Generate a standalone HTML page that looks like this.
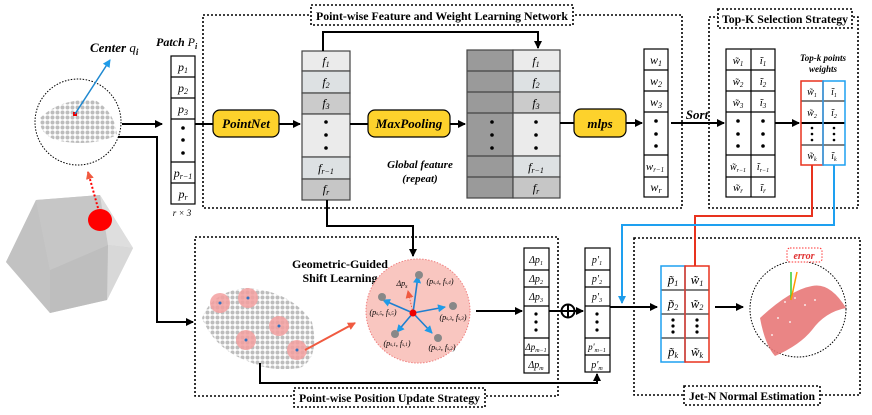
<!DOCTYPE html>
<html><head><meta charset="utf-8"><style>
html,body{margin:0;padding:0;background:#fff}
svg{display:block}
text{font-family:"Liberation Serif",serif}
.b{font-weight:bold}
.bi{font-weight:bold;font-style:italic}
.i{font-style:italic}
</style></head><body>
<svg width="872" height="415" viewBox="0 0 872 415" xmlns="http://www.w3.org/2000/svg">
<defs>
<marker id="ar" markerWidth="8" markerHeight="8" refX="7" refY="4" orient="auto" markerUnits="userSpaceOnUse"><path d="M0,0 L8,4 L0,8 z" fill="#000"/></marker>
<marker id="arb" markerWidth="8" markerHeight="8" refX="7" refY="4" orient="auto" markerUnits="userSpaceOnUse"><path d="M0,0 L8,4 L0,8 z" fill="#1e9be8"/></marker>
<marker id="arr" markerWidth="8" markerHeight="8" refX="7" refY="4" orient="auto" markerUnits="userSpaceOnUse"><path d="M0,0 L8,4 L0,8 z" fill="#f05a40"/></marker>
<pattern id="dots" width="5" height="5" patternUnits="userSpaceOnUse"><rect width="5" height="5" fill="#fff"/><circle cx="2.5" cy="2.5" r="2" fill="#bdbdbd"/></pattern>
</defs>
<g fill="none" stroke="#000" stroke-width="1.6" stroke-dasharray="2,2">
<rect x="203" y="15" width="479" height="193"/>
<rect x="709" y="17" width="149" height="191"/>
<rect x="195" y="237" width="363" height="159"/>
<rect x="634" y="238" width="226" height="157"/>
</g>
<g fill="#fff" stroke="#000" stroke-width="1.6" stroke-dasharray="2,2">
<rect x="311" y="5" width="262" height="20"/>
<rect x="718" y="9" width="134" height="19"/>
<rect x="294" y="388" width="191" height="19"/>
<rect x="684" y="386" width="136" height="19"/>
</g>
<g class="b" font-size="12">
<text x="316" y="20" textLength="252" lengthAdjust="spacingAndGlyphs">Point-wise Feature and Weight Learning Network</text>
<text x="722" y="23" textLength="126" lengthAdjust="spacingAndGlyphs">Top-K Selection Strategy</text>
<text x="299" y="402" textLength="181" lengthAdjust="spacingAndGlyphs">Point-wise Position Update Strategy</text>
<text x="689" y="400" textLength="126" lengthAdjust="spacingAndGlyphs">Jet-N Normal Estimation</text>
</g>
<!-- left circle -->
<circle cx="78" cy="122" r="43" fill="#fff" stroke="#000" stroke-dasharray="1.5,1.5"/>
<path d="M40,118 Q60,98 95,100 Q115,112 117,135 Q90,148 55,140 Q38,132 40,118 z" fill="url(#dots)"/>
<rect x="73" y="112" width="4" height="4" fill="#e00"/>
<line x1="75" y1="114" x2="110" y2="60" stroke="#1e88d0" stroke-width="1.5" marker-end="url(#arb)"/>
<text x="90" y="52" class="bi" font-size="13">Center <tspan font-weight="normal">q</tspan><tspan font-size="9" dy="3">i</tspan></text>
<!-- icosahedron -->
<polygon points="36,200 100,195 133,248 107,300 50,313 6,262" fill="#cfcfcf"/>
<polygon points="36,200 100,195 108,245 50,270" fill="#c6c6c6"/>
<polygon points="100,195 133,248 108,245" fill="#dedede"/>
<polygon points="108,245 133,248 107,300" fill="#d8d8d8"/>
<polygon points="50,270 108,245 107,300 50,313" fill="#bebebe"/>
<polygon points="6,262 36,200 50,270 50,313" fill="#c2c2c2"/>
<ellipse cx="100" cy="220" rx="12" ry="11" fill="#f00"/>
<line x1="98" y1="208" x2="88" y2="172" stroke="#f00" stroke-width="2" stroke-dasharray="2,2" marker-end="url(#arr)"/>
<!-- connectors left -->
<line x1="122" y1="124" x2="162" y2="124" stroke="#000" stroke-width="2" marker-end="url(#ar)"/>
<polyline points="118,137 157,137 157,322 193,322" fill="none" stroke="#000" stroke-width="2" marker-end="url(#ar)"/>
<!-- patch -->
<text x="156" y="46" class="bi" font-size="12">Patch <tspan font-weight="normal">P</tspan><tspan font-size="8" dy="3">i</tspan></text>
<g fill="#fff" stroke="#000" stroke-width="1.2">
<rect x="171" y="56" width="24" height="148"/>
<line x1="171" y1="77" x2="195" y2="77"/><line x1="171" y1="98" x2="195" y2="98"/><line x1="171" y1="119" x2="195" y2="119"/><line x1="171" y1="162" x2="195" y2="162"/><line x1="171" y1="183" x2="195" y2="183"/>
</g>
<g class="i" font-size="12" text-anchor="middle">
<text x="183" y="71">p<tspan font-size="8" dy="2">1</tspan></text>
<text x="183" y="92">p<tspan font-size="8" dy="2">2</tspan></text>
<text x="183" y="113">p<tspan font-size="8" dy="2">3</tspan></text>
<text x="183" y="177">p<tspan font-size="8" dy="2">r−1</tspan></text>
<text x="183" y="198">p<tspan font-size="8" dy="2">r</tspan></text>
<text x="182" y="216" font-size="9">r × 3</text>
</g>
<g fill="#000"><circle cx="183" cy="128" r="1.8"/><circle cx="183" cy="140" r="1.8"/><circle cx="183" cy="153" r="1.8"/></g>
<!-- PointNet -->
<line x1="195" y1="124" x2="213" y2="124" stroke="#000" stroke-width="2"/>
<rect x="213" y="110" width="66" height="27" rx="7" fill="#fdd22c" stroke="#000" stroke-width="1.2"/>
<text x="246" y="128" class="bi" font-size="13" text-anchor="middle">PointNet</text>
<line x1="279" y1="124" x2="300" y2="124" stroke="#000" stroke-width="2" marker-end="url(#ar)"/>
<!-- f column -->
<g stroke="#444" stroke-width="1.2">
<rect x="302" y="51" width="48" height="20" fill="#ebebeb"/>
<rect x="302" y="71" width="48" height="22" fill="#dde1e3"/>
<rect x="302" y="93" width="48" height="21" fill="#cbcbcb"/>
<rect x="302" y="114" width="48" height="43" fill="#ebebeb"/>
<rect x="302" y="157" width="48" height="22" fill="#dde1e3"/>
<rect x="302" y="179" width="48" height="21" fill="#c6c6c6"/>
</g>
<g class="i" font-size="12" text-anchor="middle">
<text x="326" y="65">f<tspan font-size="8" dy="2">1</tspan></text>
<text x="326" y="86">f<tspan font-size="8" dy="2">2</tspan></text>
<text x="326" y="107">f<tspan font-size="8" dy="2">3</tspan></text>
<text x="326" y="172">f<tspan font-size="8" dy="2">r−1</tspan></text>
<text x="326" y="193">f<tspan font-size="8" dy="2">r</tspan></text>
</g>
<g fill="#000"><circle cx="326" cy="122" r="1.8"/><circle cx="326" cy="135" r="1.8"/><circle cx="326" cy="148" r="1.8"/></g>
<polyline points="323,51 323,32 538,32 538,48" fill="none" stroke="#000" stroke-width="2" marker-end="url(#ar)"/>
<!-- MaxPooling -->
<line x1="350" y1="124" x2="368" y2="124" stroke="#000" stroke-width="2"/>
<rect x="368" y="110" width="82" height="27" rx="7" fill="#fdd22c" stroke="#000" stroke-width="1.2"/>
<text x="409" y="128" class="bi" font-size="13" text-anchor="middle">MaxPooling</text>
<line x1="450" y1="124" x2="465" y2="124" stroke="#000" stroke-width="2" marker-end="url(#ar)"/>
<text x="420" y="168" class="bi" font-size="11" text-anchor="middle">Global feature</text>
<text x="420" y="182" class="bi" font-size="11" text-anchor="middle">(repeat)</text>
<!-- concat -->
<g stroke="#444" stroke-width="1.2">
<rect x="467" y="50" width="46" height="148" fill="#9a9a9a"/>
<line x1="467" y1="71" x2="513" y2="71"/><line x1="467" y1="92" x2="513" y2="92"/><line x1="467" y1="113" x2="513" y2="113"/><line x1="467" y1="156" x2="513" y2="156"/><line x1="467" y1="177" x2="513" y2="177"/>
<rect x="513" y="50" width="47" height="21" fill="#ebebeb"/>
<rect x="513" y="71" width="47" height="21" fill="#dde1e3"/>
<rect x="513" y="92" width="47" height="21" fill="#cbcbcb"/>
<rect x="513" y="113" width="47" height="43" fill="#ebebeb"/>
<rect x="513" y="156" width="47" height="21" fill="#dde1e3"/>
<rect x="513" y="177" width="47" height="21" fill="#c6c6c6"/>
</g>
<g class="i" font-size="12" text-anchor="middle">
<text x="536" y="65">f<tspan font-size="8" dy="2">1</tspan></text>
<text x="536" y="86">f<tspan font-size="8" dy="2">2</tspan></text>
<text x="536" y="107">f<tspan font-size="8" dy="2">3</tspan></text>
<text x="536" y="171">f<tspan font-size="8" dy="2">r−1</tspan></text>
<text x="536" y="192">f<tspan font-size="8" dy="2">r</tspan></text>
</g>
<g fill="#000"><circle cx="492" cy="122" r="1.8"/><circle cx="492" cy="135" r="1.8"/><circle cx="492" cy="148" r="1.8"/><circle cx="536" cy="122" r="1.8"/><circle cx="536" cy="135" r="1.8"/><circle cx="536" cy="148" r="1.8"/></g>
<!-- mlps -->
<line x1="560" y1="123" x2="574" y2="123" stroke="#000" stroke-width="2"/>
<rect x="574" y="109" width="52" height="28" rx="7" fill="#fdd22c" stroke="#000" stroke-width="1.2"/>
<text x="600" y="128" class="bi" font-size="13" text-anchor="middle">mlps</text>
<line x1="626" y1="123" x2="642" y2="123" stroke="#000" stroke-width="2" marker-end="url(#ar)"/>
<!-- w column -->
<g fill="#fff" stroke="#000" stroke-width="1.2">
<rect x="644" y="49" width="24" height="148"/>
<line x1="644" y1="70" x2="668" y2="70"/><line x1="644" y1="91" x2="668" y2="91"/><line x1="644" y1="112" x2="668" y2="112"/><line x1="644" y1="155" x2="668" y2="155"/><line x1="644" y1="177" x2="668" y2="177"/>
</g>
<g class="i" font-size="12" text-anchor="middle">
<text x="656" y="64">w<tspan font-size="8" dy="2">1</tspan></text>
<text x="656" y="85">w<tspan font-size="8" dy="2">2</tspan></text>
<text x="656" y="106">w<tspan font-size="8" dy="2">3</tspan></text>
<text x="655" y="170" font-size="11">w<tspan font-size="7" dy="2">r−1</tspan></text>
<text x="656" y="191">w<tspan font-size="8" dy="2">r</tspan></text>
</g>
<g fill="#000"><circle cx="656" cy="121" r="1.8"/><circle cx="656" cy="134" r="1.8"/><circle cx="656" cy="146" r="1.8"/></g>
<text x="697" y="119" class="bi" font-size="13" text-anchor="middle">Sort</text>
<line x1="671" y1="123" x2="724" y2="123" stroke="#000" stroke-width="2" marker-end="url(#ar)"/>
<!-- sorted table -->
<g fill="#fff" stroke="#000" stroke-width="1.2">
<rect x="726" y="49" width="49" height="148"/><line x1="751" y1="49" x2="751" y2="197"/>
<line x1="726" y1="70" x2="775" y2="70"/><line x1="726" y1="91" x2="775" y2="91"/><line x1="726" y1="112" x2="775" y2="112"/><line x1="726" y1="155" x2="775" y2="155"/><line x1="726" y1="177" x2="775" y2="177"/>
</g>
<g class="i" font-size="11" text-anchor="middle">
<text x="738" y="64">w̃<tspan font-size="7" dy="2">1</tspan></text><text x="763" y="64">ĩ<tspan font-size="7" dy="2">1</tspan></text>
<text x="738" y="85">w̃<tspan font-size="7" dy="2">2</tspan></text><text x="763" y="85">ĩ<tspan font-size="7" dy="2">2</tspan></text>
<text x="738" y="106">w̃<tspan font-size="7" dy="2">3</tspan></text><text x="763" y="106">ĩ<tspan font-size="7" dy="2">3</tspan></text>
<text x="738" y="170" font-size="10">w̃<tspan font-size="6" dy="2">r−1</tspan></text><text x="763" y="170" font-size="10">ĩ<tspan font-size="6" dy="2">r−1</tspan></text>
<text x="738" y="191">w̃<tspan font-size="7" dy="2">r</tspan></text><text x="763" y="191">ĩ<tspan font-size="7" dy="2">r</tspan></text>
</g>
<g fill="#000"><circle cx="738" cy="121" r="1.8"/><circle cx="738" cy="134" r="1.8"/><circle cx="738" cy="146" r="1.8"/><circle cx="763" cy="121" r="1.8"/><circle cx="763" cy="134" r="1.8"/><circle cx="763" cy="146" r="1.8"/></g>
<line x1="775" y1="123" x2="799" y2="123" stroke="#000" stroke-width="2" marker-end="url(#ar)"/>
<text x="823" y="61" class="bi" font-size="9" text-anchor="middle">Top-k points</text>
<text x="823" y="72" class="bi" font-size="9" text-anchor="middle">weights</text>
<!-- top-k table -->
<g stroke="#000" stroke-width="1" fill="#fff">
<rect x="801" y="81" width="44" height="84"/>
<line x1="801" y1="101" x2="845" y2="101"/><line x1="801" y1="123" x2="845" y2="123" stroke-width="2"/><line x1="801" y1="145" x2="845" y2="145"/>
</g>
<rect x="801" y="81" width="22" height="84" fill="none" stroke="#e8321e" stroke-width="1.5"/>
<rect x="823" y="81" width="22" height="84" fill="none" stroke="#1ea0f0" stroke-width="1.5"/>
<g class="i" font-size="10" text-anchor="middle">
<text x="812" y="95">w̃<tspan font-size="6" dy="2">1</tspan></text><text x="834" y="95">ĩ<tspan font-size="6" dy="2">1</tspan></text>
<text x="812" y="116">w̃<tspan font-size="6" dy="2">2</tspan></text><text x="834" y="116">ĩ<tspan font-size="6" dy="2">2</tspan></text>
<text x="812" y="159">w̃<tspan font-size="6" dy="2">k</tspan></text><text x="834" y="159">ĩ<tspan font-size="6" dy="2">k</tspan></text>
</g>
<g fill="#000"><circle cx="812" cy="128" r="1.3"/><circle cx="812" cy="134" r="1.3"/><circle cx="812" cy="140" r="1.3"/><circle cx="834" cy="128" r="1.3"/><circle cx="834" cy="134" r="1.3"/><circle cx="834" cy="140" r="1.3"/></g>
<polyline points="812,165 812,216 695,216 695,266" fill="none" stroke="#e8321e" stroke-width="2"/>
<polyline points="834,165 834,225 622,225 622,303" fill="none" stroke="#1ea0f0" stroke-width="2" marker-end="url(#arb)"/>
<!-- bottom connector from f -->
<polyline points="327,200 327,226 413,226 413,256" fill="none" stroke="#000" stroke-width="2" marker-end="url(#ar)"/>
<text x="340" y="268" class="b" font-size="12" text-anchor="middle">Geometric-Guided</text>
<text x="340" y="282" class="b" font-size="12" text-anchor="middle">Shift Learning</text>
<!-- point cloud -->
<path d="M202,318 Q212,292 245,288 Q290,290 312,322 Q320,358 300,368 Q270,372 250,362 Q215,350 202,318 z" fill="url(#dots)"/>
<g fill="#f4a0a0" opacity="0.85">
<circle cx="220" cy="303" r="10"/><circle cx="248" cy="298" r="10"/><circle cx="279" cy="326" r="10"/><circle cx="246" cy="340" r="10"/><circle cx="297" cy="350" r="10"/>
</g>
<g fill="#3070c0"><circle cx="220" cy="303" r="1.5"/><circle cx="248" cy="298" r="1.5"/><circle cx="279" cy="326" r="1.5"/><circle cx="246" cy="340" r="1.5"/><circle cx="297" cy="350" r="1.5"/></g>
<line x1="305" y1="350" x2="355" y2="323" stroke="#f05a40" stroke-width="2" marker-end="url(#arr)"/>
<!-- shift circle -->
<circle cx="418" cy="311" r="52" fill="#f9c6c0" stroke="#f08080" stroke-dasharray="1.5,1.5"/>
<g stroke="#1e7fd0" stroke-width="1.6">
<line x1="413" y1="313" x2="418" y2="276" marker-end="url(#arb)"/>
<line x1="413" y1="313" x2="383" y2="300" marker-end="url(#arb)"/>
<line x1="413" y1="313" x2="445" y2="307" marker-end="url(#arb)"/>
<line x1="413" y1="313" x2="397" y2="332" marker-end="url(#arb)"/>
<line x1="413" y1="313" x2="432" y2="333" marker-end="url(#arb)"/>
</g>
<line x1="413" y1="313" x2="408" y2="291" stroke="#f05a40" stroke-dasharray="1.5,1.5" marker-end="url(#arr)"/>
<g fill="#888"><circle cx="419" cy="275" r="4"/><circle cx="382" cy="297" r="4"/><circle cx="453" cy="306" r="4"/><circle cx="395" cy="334" r="4"/><circle cx="438" cy="338" r="4"/></g>
<circle cx="413" cy="313" r="3.5" fill="#e00"/>
<g class="i" font-size="8" text-anchor="middle">
<text x="402" y="286">Δp<tspan font-size="6" dy="2">s</tspan></text>
<text x="440" y="284">(p<tspan font-size="5">s,4</tspan>, f<tspan font-size="5">s,4</tspan>)</text>
<text x="383" y="315">(p<tspan font-size="5">s,5</tspan>, f<tspan font-size="5">s,5</tspan>)</text>
<text x="453" y="320">(p<tspan font-size="5">s,3</tspan>, f<tspan font-size="5">s,3</tspan>)</text>
<text x="397" y="346">(p<tspan font-size="5">s,1</tspan>, f<tspan font-size="5">s,1</tspan>)</text>
<text x="442" y="350">(p<tspan font-size="5">s,2</tspan>, f<tspan font-size="5">s,2</tspan>)</text>
</g>
<line x1="476" y1="311" x2="522" y2="311" stroke="#000" stroke-width="2" marker-end="url(#ar)"/>
<!-- delta column -->
<g fill="#fff" stroke="#000" stroke-width="1.2">
<rect x="524" y="248" width="25" height="125"/>
<line x1="524" y1="270" x2="549" y2="270"/><line x1="524" y1="287" x2="549" y2="287"/><line x1="524" y1="306" x2="549" y2="306"/><line x1="524" y1="338" x2="549" y2="338"/><line x1="524" y1="355" x2="549" y2="355"/>
<rect x="585" y="248" width="25" height="124"/>
<line x1="585" y1="270" x2="610" y2="270"/><line x1="585" y1="287" x2="610" y2="287"/><line x1="585" y1="306" x2="610" y2="306"/><line x1="585" y1="338" x2="610" y2="338"/><line x1="585" y1="355" x2="610" y2="355"/>
</g>
<g class="i" font-size="10" text-anchor="middle">
<text x="536" y="263">Δp<tspan font-size="6" dy="2">1</tspan></text>
<text x="536" y="282">Δp<tspan font-size="6" dy="2">2</tspan></text>
<text x="536" y="300">Δp<tspan font-size="6" dy="2">3</tspan></text>
<text x="536" y="350" font-size="9">Δp<tspan font-size="6" dy="2">m−1</tspan></text>
<text x="536" y="368">Δp<tspan font-size="6" dy="2">m</tspan></text>
<text x="597" y="263">p'<tspan font-size="6" dy="2">1</tspan></text>
<text x="597" y="282">p'<tspan font-size="6" dy="2">2</tspan></text>
<text x="597" y="300">p'<tspan font-size="6" dy="2">3</tspan></text>
<text x="597" y="350" font-size="9">p'<tspan font-size="6" dy="2">m−1</tspan></text>
<text x="597" y="368">p'<tspan font-size="6" dy="2">m</tspan></text>
</g>
<g fill="#000"><circle cx="536" cy="314" r="1.6"/><circle cx="536" cy="322" r="1.6"/><circle cx="536" cy="330" r="1.6"/><circle cx="597" cy="314" r="1.6"/><circle cx="597" cy="322" r="1.6"/><circle cx="597" cy="330" r="1.6"/></g>
<line x1="549" y1="311" x2="583" y2="311" stroke="#000" stroke-width="2" marker-end="url(#ar)"/>
<circle cx="568" cy="311" r="6.5" fill="#fff" stroke="#000" stroke-width="2"/>
<line x1="561.5" y1="311" x2="574.5" y2="311" stroke="#000" stroke-width="2"/><line x1="568" y1="304.5" x2="568" y2="317.5" stroke="#000" stroke-width="2"/>
<polyline points="260,363 260,383 597,383 597,374" fill="none" stroke="#000" stroke-width="2" marker-end="url(#ar)"/>
<!-- to jet table -->
<line x1="610" y1="307" x2="657" y2="307" stroke="#000" stroke-width="2" marker-end="url(#ar)"/>
<g stroke="#000" stroke-width="1" fill="#fff">
<rect x="661" y="266" width="48" height="96"/>
<line x1="661" y1="290" x2="709" y2="290"/><line x1="661" y1="314" x2="709" y2="314"/><line x1="661" y1="338" x2="709" y2="338"/>
</g>
<rect x="661" y="266" width="24" height="96" fill="none" stroke="#1ea0f0" stroke-width="1.5"/>
<rect x="685" y="266" width="24" height="96" fill="none" stroke="#e8321e" stroke-width="1.5"/>
<g class="i" font-size="13" text-anchor="middle">
<text x="673" y="284">p̃<tspan font-size="8" dy="2">1</tspan></text><text x="697" y="284">w̃<tspan font-size="8" dy="2">1</tspan></text>
<text x="673" y="308">p̃<tspan font-size="8" dy="2">2</tspan></text><text x="697" y="308">w̃<tspan font-size="8" dy="2">2</tspan></text>
<text x="673" y="356">p̃<tspan font-size="8" dy="2">k</tspan></text><text x="697" y="356">w̃<tspan font-size="8" dy="2">k</tspan></text>
</g>
<g fill="#000"><circle cx="673" cy="320" r="1.6"/><circle cx="673" cy="326" r="1.6"/><circle cx="673" cy="332" r="1.6"/><circle cx="697" cy="320" r="1.6"/><circle cx="697" cy="326" r="1.6"/><circle cx="697" cy="332" r="1.6"/></g>
<line x1="715" y1="307" x2="743" y2="307" stroke="#000" stroke-width="2" marker-end="url(#ar)"/>
<!-- result circle -->
<circle cx="798" cy="309" r="48" fill="#fff" stroke="#000" stroke-dasharray="1.5,1.5"/>
<path d="M760,318 Q790,290 812,286 Q830,282 846,308 Q825,312 812,330 Q800,345 775,356 Q765,345 760,318 z" fill="#e87878" opacity="0.9"/>
<g fill="#fff" opacity="0.8"><circle cx="785" cy="302" r="1"/><circle cx="795" cy="298" r="1"/><circle cx="805" cy="305" r="1"/><circle cx="778" cy="318" r="1"/><circle cx="790" cy="322" r="1"/><circle cx="815" cy="300" r="1"/><circle cx="772" cy="335" r="1"/></g>
<line x1="791" y1="300" x2="791" y2="272" stroke="#3c3" stroke-width="1.5"/>
<line x1="791" y1="300" x2="797" y2="272" stroke="#f90" stroke-width="1.5"/>
<rect x="787" y="248" width="35" height="14" rx="3" fill="#fff" stroke="#f33" stroke-dasharray="1.5,1.5"/>
<text x="804" y="259" class="bi" font-size="10" fill="#e03030" text-anchor="middle">error</text>
</svg>
</body></html>
